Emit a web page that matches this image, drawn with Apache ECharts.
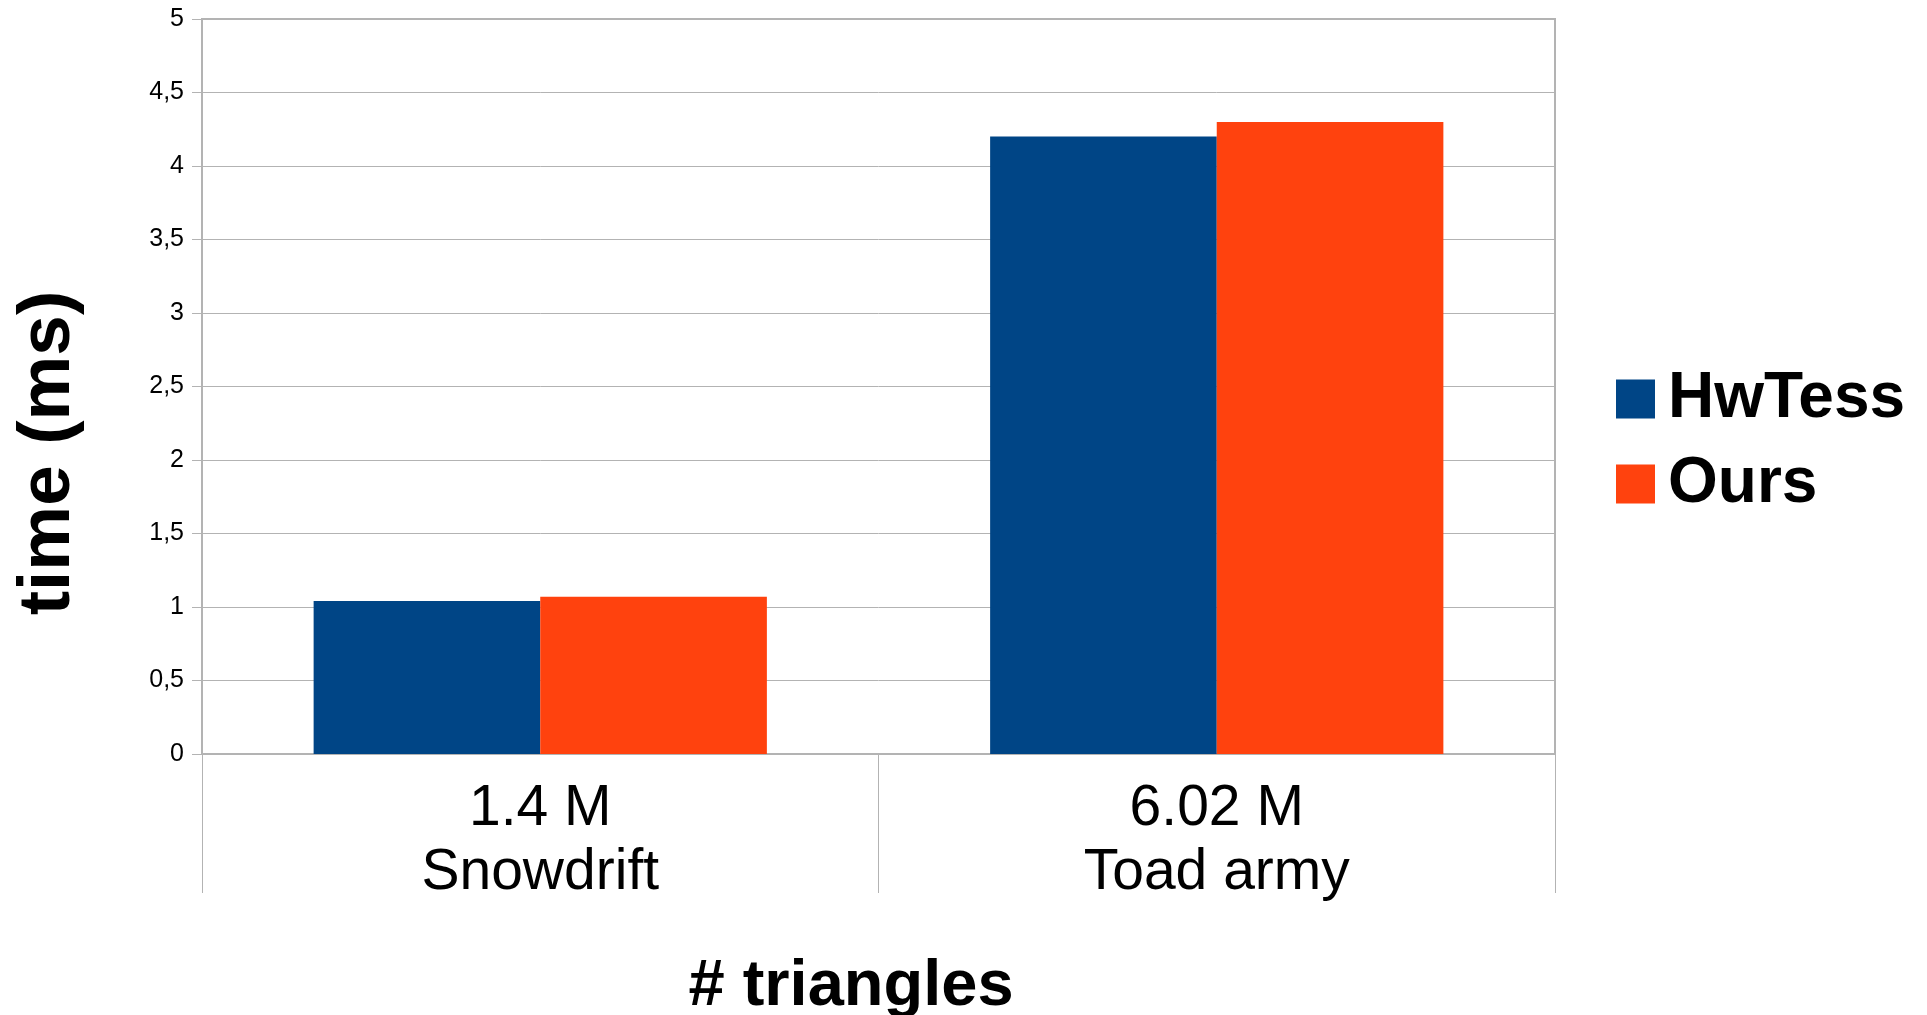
<!DOCTYPE html>
<html>
<head>
<meta charset="utf-8">
<script src="https://cdn.jsdelivr.net/npm/echarts@6/dist/echarts.min.js"></script>
<style>
  html, body { margin: 0; padding: 0; background: #fff; }
  #chart { width: 1927px; height: 1015px; }
</style>
</head>
<body>
<div id="chart"></div>
<script>
// data
const triangleCounts = ["1.4 M", "6.02 M"];
const sceneNames = ["Snowdrift", "Toad army"];
const hwTess = [1.04, 4.2];
const ours = [1.07, 4.3];
const yTicks = [0, 0.5, 1, 1.5, 2, 2.5, 3, 3.5, 4, 4.5, 5];

const categories = triangleCounts.map((c, i) => c + "\n" + sceneNames[i]);
const font = "Liberation Sans";
const gray = "#b3b3b3";

const chart = echarts.init(document.getElementById("chart"));
chart.setOption({
  animation: false,
  color: ["#004586", "#ff420e"],
  grid: {
    left: 202,
    top: 19,
    right: 372,
    bottom: 261,
    show: true,
    borderColor: gray,
    borderWidth: 2,
    containLabel: false
  },
  legend: {
    orient: "vertical",
    left: 1611,
    top: 362,
    itemWidth: 39,
    itemHeight: 39,
    itemGap: 21,
    icon: "rect",
    data: ["HwTess", "Ours"],
    textStyle: {
      fontFamily: font,
      fontWeight: "bold",
      fontSize: 64,
      lineHeight: 64,
      color: "#000",
      padding: [0, 0, 0, 8]
    }
  },
  graphic: [
    {
      type: "text",
      x: 49,
      y: 453,
      rotation: Math.PI / 2,
      style: {
        text: "time (ms)",
        font: "bold 73px '" + font + "'",
        fill: "#000",
        align: "center",
        verticalAlign: "middle"
      }
    },
    {
      type: "text",
      x: 851,
      y: 987,
      style: {
        text: "# triangles",
        font: "bold 65px '" + font + "'",
        fill: "#000",
        align: "center",
        verticalAlign: "middle"
      }
    }
  ],
  xAxis: {
    type: "category",
    data: categories,
    axisLine: { show: true, lineStyle: { color: gray, width: 2 } },
    axisTick: { show: true, length: 139, lineStyle: { color: gray, width: 1 } },
    axisLabel: {
      margin: 23,
      fontFamily: font,
      fontSize: 57,
      lineHeight: 64,
      color: "#000"
    },
    splitLine: { show: false }
  },
  yAxis: {
    type: "value",
    min: yTicks[0],
    max: yTicks[yTicks.length - 1],
    interval: yTicks[1] - yTicks[0],
    axisLine: { show: true, lineStyle: { color: gray, width: 2 } },
    axisTick: { show: true, length: 10, lineStyle: { color: gray } },
    axisLabel: {
      margin: 18,
      fontFamily: font,
      fontSize: 25,
      color: "#000",
      formatter: v => String(v).replace(".", ",")
    },
    splitLine: { show: true, lineStyle: { color: gray, width: 1 } }
  },
  series: [
    {
      name: "HwTess",
      type: "bar",
      data: hwTess,
      barGap: "0%",
      barCategoryGap: "33%"
    },
    {
      name: "Ours",
      type: "bar",
      data: ours,
      barGap: "0%",
      barCategoryGap: "33%"
    }
  ]
});
</script>
</body>
</html>
